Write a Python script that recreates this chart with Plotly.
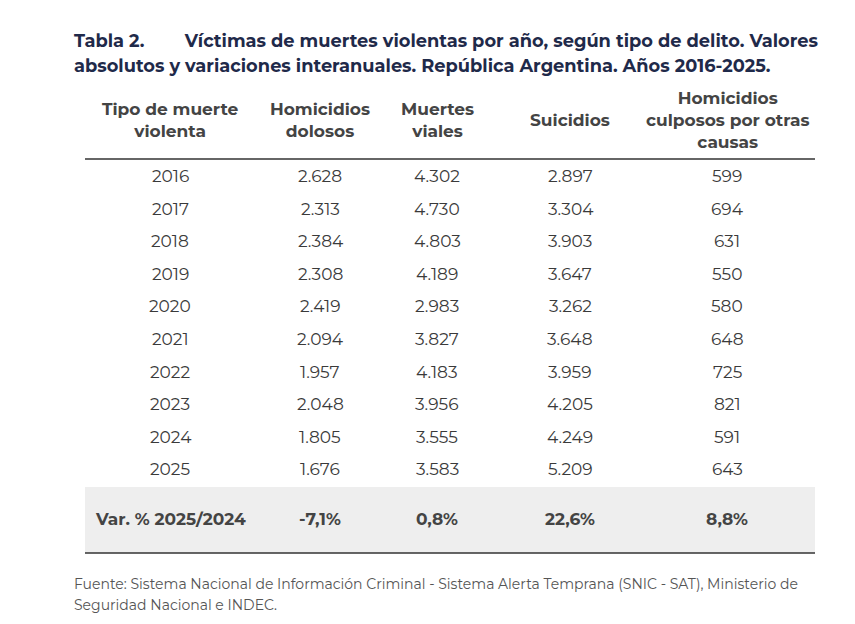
import plotly.graph_objects as go

W, H = 855, 624
OFF = 8  # page offset seen in the render

headers = ["Tipo de muerte<br>violenta", "Homicidios<br>dolosos", "Muertes<br>viales",
           "Suicidios", "Homicidios<br>culposos por otras<br>causas"]
years = ["2016", "2017", "2018", "2019", "2020", "2021", "2022", "2023", "2024", "2025"]
dolosos = ["2.628", "2.313", "2.384", "2.308", "2.419", "2.094", "1.957", "2.048", "1.805", "1.676"]
viales = ["4.302", "4.730", "4.803", "4.189", "2.983", "3.827", "4.183", "3.956", "3.555", "3.583"]
suicidios = ["2.897", "3.304", "3.903", "3.647", "3.262", "3.648", "3.959", "4.205", "4.249", "5.209"]
culposos = ["599", "694", "631", "550", "580", "648", "725", "821", "591", "643"]
var_row = ["Var. % 2025/2024", "-7,1%", "0,8%", "22,6%", "8,8%"]

title_1 = "<b>Tabla 2.        Víctimas de muertes violentas por año, según tipo de delito. Valores</b>"
title_2 = "<b>absolutos y variaciones interanuales. República Argentina. Años 2016-2025.</b>"
source_1 = "Fuente: Sistema Nacional de Información Criminal - Sistema Alerta Temprana (SNIC - SAT), Ministerio de"
source_2 = "Seguridad Nacional e INDEC."

col_x = [170, 320, 437, 570, 727]
font = "Montserrat, Lato, Open Sans, sans-serif"
txt = "#3a3a3a"


def px(x, y):
    return (x - OFF) / W, 1 - (y - OFF) / H


fig = go.Figure()
ann = []


def add(text, x, y, size=17, color=txt, xanchor="center"):
    ax, ay = px(x, y)
    ann.append(dict(text=text, x=ax, y=ay, xref="paper", yref="paper", showarrow=False,
                    xanchor=xanchor, yanchor="middle", align="center" if xanchor == "center" else "left",
                    font=dict(family=font, size=size, color=color)))


add(title_1, 72, 40, 17.8, "#1f2a4a", "left")
add(title_2, 72, 65, 17.8, "#1f2a4a", "left")

for i, h in enumerate(headers):
    add("<b>" + h + "</b>", col_x[i], 120, 17, "#444444")

columns = [years, dolosos, viales, suicidios, culposos]
for r in range(len(years)):
    y = 176 + r * 32.6
    for c, col in enumerate(columns):
        add(col[r], col_x[c], y, 17)

for c, v in enumerate(var_row):
    add("<b>" + v + "</b>", col_x[c], 519, 17, "#444444")

add(source_1, 72, 584, 14, "#555555", "left")
add(source_2, 72, 605, 14, "#555555", "left")


def hline(y):
    x0, y0 = px(85, y)
    x1, _ = px(815, y)
    return dict(type="line", xref="paper", yref="paper", x0=x0, x1=x1, y0=y0, y1=y0,
                line=dict(color="#333333", width=1.5))


rx0, ry0 = px(85, 553)
rx1, ry1 = px(815, 487)
shapes = [
    dict(type="rect", xref="paper", yref="paper", x0=rx0, x1=rx1, y0=ry0, y1=ry1,
         fillcolor="#eeeeee", line=dict(width=0), layer="below"),
    hline(159),
    hline(553),
]

fig.update_layout(
    width=W, height=H, margin=dict(l=0, r=0, t=0, b=0),
    paper_bgcolor="white", plot_bgcolor="white",
    xaxis=dict(visible=False), yaxis=dict(visible=False),
    annotations=ann, shapes=shapes, showlegend=False,
)
fig.write_html("out.html")
